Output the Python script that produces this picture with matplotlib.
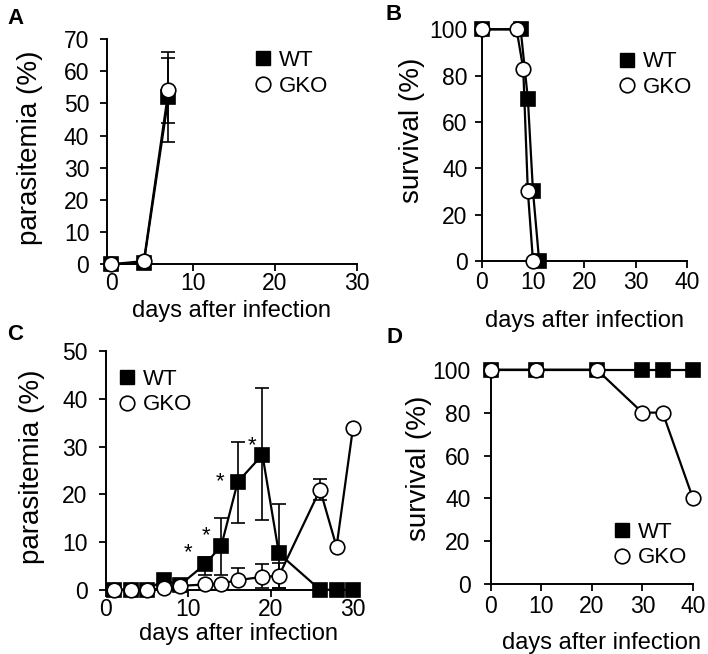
import matplotlib
matplotlib.use('Agg')
import matplotlib.pyplot as plt
from matplotlib.lines import Line2D
import numpy as np

plt.rcParams['font.family'] = ['Liberation Sans', 'DejaVu Sans']

# ---------------- data ----------------
# Panel A : parasitemia (%)
a_days = [0, 4, 7]
a_wt = [0, 0.5, 52]
a_wt_err = [0, 0, 14]
a_gko = [0, 1, 54]
a_gko_err = [0, 0, 10]

# Panel B : survival (%)
b_wt_days = [0, 7.6, 9, 10, 11.2]
b_wt = [100, 100, 70, 30, 0]
b_gko_days = [0, 6.8, 8.1, 9, 10]
b_gko = [100, 100, 83, 30, 0]

# Panel C : parasitemia (%)
c_days = [1, 3, 5, 7, 9, 12, 14, 16, 19, 21, 26, 28, 30]
c_wt = [0, 0, 0, 2, 1, 5.3, 9.2, 22.6, 28.3, 7.6, 0, 0, 0]
c_wt_err_lo = [0, 0, 0, 0, 0, 2.3, 6.2, 8.6, 13.7, 7.2, 0, 0, 0]
c_wt_err_hi = [0, 0, 0, 0, 0, 1.5, 5.8, 8.4, 14.0, 10.3, 0, 0, 0]
c_gko = [0, 0, 0, 0.3, 0.8, 1.1, 1.3, 2.0, 2.7, 2.9, 21, 9, 34]
c_gko_err_lo = [0, 0, 0, 0, 0, 0, 0, 0, 2.4, 2.5, 2.2, 0, 0]
c_gko_err_hi = [0, 0, 0, 0, 0, 0, 0, 2.5, 2.6, 2.6, 2.3, 0, 0]
c_star_days = [10, 12.2, 13.8, 17.7]
c_star_vals = [9.2, 12.9, 24.1, 31.7]

# Panel D : survival (%)
d_days = [0, 9, 21, 30, 34, 40]
d_wt = [100, 100, 100, 100, 100, 100]
d_gko = [100, 100, 100, 80, 80, 40]

series_labels = ['WT', 'GKO']
xlabel = 'days after infection'

# ---------------- style ----------------
TICK_FS = 16.5
XLABEL_FS = 17
YLABEL_FS = 20
LEG_FS = 16
MS = 10.5
LW = 1.6

fig = plt.figure(figsize=(7.08, 6.54), dpi=100)

axA = fig.add_axes([0.1511, 0.5959, 0.3531, 0.3445])
axB = fig.add_axes([0.6802, 0.6009, 0.2905, 0.3543])
axC = fig.add_axes([0.1497, 0.0983, 0.3489, 0.3645])
axD = fig.add_axes([0.6931, 0.1066, 0.2857, 0.3281])


def style(ax, xlim, ylim, xticks, yticks, ypad, xpad):
    ax.set_xlim(*xlim)
    ax.set_ylim(*ylim)
    ax.set_xticks(xticks)
    ax.set_yticks(yticks)
    for s in ['top', 'right']:
        ax.spines[s].set_visible(False)
    for s in ['left', 'bottom']:
        ax.spines[s].set_linewidth(1.4)
    ax.tick_params(axis='both', direction='out', length=5, width=1.3,
                   labelsize=TICK_FS)
    ax.tick_params(axis='y', pad=ypad)
    ax.tick_params(axis='x', pad=xpad)


def wt_style():
    return dict(color='black', marker='s', markersize=MS, markerfacecolor='black',
                markeredgecolor='black', markeredgewidth=1.2, linewidth=LW,
                clip_on=False, zorder=3)


def gko_style():
    return dict(color='black', marker='o', markersize=MS, markerfacecolor='white',
                markeredgecolor='black', markeredgewidth=1.2, linewidth=LW,
                clip_on=False, zorder=4)


def errbars(ax, x, y, lo, hi, z):
    x = np.asarray(x, float)
    y = np.asarray(y, float)
    lo = np.asarray(lo, float)
    hi = np.asarray(hi, float)
    m = (lo > 0) | (hi > 0)
    if m.any():
        ax.errorbar(x[m], y[m], yerr=[lo[m], hi[m]], fmt='none', ecolor='black',
                    elinewidth=1.2, capsize=4.7, capthick=1.2, clip_on=False,
                    zorder=z)


def legend(ax, anchor):
    h_wt = Line2D([], [], linestyle='none', marker='s', markersize=MS - 0.5,
                  markerfacecolor='black', markeredgecolor='black')
    h_gko = Line2D([], [], linestyle='none', marker='o', markersize=MS,
                   markerfacecolor='white', markeredgecolor='black',
                   markeredgewidth=1.2)
    ax.legend([h_wt, h_gko], series_labels, loc='upper left',
              bbox_to_anchor=anchor, bbox_transform=fig.transFigure,
              frameon=False, fontsize=LEG_FS, handlelength=0.8,
              handletextpad=0.3, labelspacing=0.2, borderpad=0,
              borderaxespad=0)


# ---------------- Panel A ----------------
errbars(axA, a_days, a_wt, a_wt_err, a_wt_err, 2)
errbars(axA, a_days, a_gko, a_gko_err, a_gko_err, 2)
axA.plot(a_days, a_wt, **wt_style())
axA.plot(a_days, a_gko, **gko_style())
style(axA, (-0.5, 30), (0, 70), [0, 10, 20, 30], range(0, 71, 10), 7.7, 0.5)
axA.set_ylabel('parasitemia (%)', fontsize=YLABEL_FS, va='center', ha='center')
axA.yaxis.set_label_coords(-0.308, 0.518)
axA.set_xlabel(xlabel, fontsize=XLABEL_FS, va='baseline', ha='center')
axA.xaxis.set_label_coords(0.5, -0.235)
legend(axA, (0.359, 0.9234))

# ---------------- Panel B ----------------
axB.plot(b_wt_days, b_wt, **wt_style())
axB.plot(b_gko_days, b_gko, **gko_style())
style(axB, (0, 40), (0, 100), [0, 10, 20, 30, 40], range(0, 101, 20), 5, 2)
axB.set_ylabel('survival (%)', fontsize=YLABEL_FS, va='center', ha='center')
axB.yaxis.set_label_coords(-0.34, 0.562)
axB.set_xlabel(xlabel, fontsize=XLABEL_FS, va='baseline', ha='center')
axB.xaxis.set_label_coords(0.5, -0.285)
legend(axB, (0.8733, 0.9214))

# ---------------- Panel C ----------------
errbars(axC, c_days, c_wt, c_wt_err_lo, c_wt_err_hi, 2)
axC.plot(c_days, c_wt, **wt_style())
errbars(axC, c_days, c_gko, c_gko_err_lo, c_gko_err_hi, 3.5)
axC.plot(c_days, c_gko, **gko_style())
for xd, yv in zip(c_star_days, c_star_vals):
    axC.annotate('*', (xd, yv), xytext=(0, -9), textcoords='offset points',
                 ha='center', va='baseline', fontsize=16)
style(axC, (0, 30), (0, 50), [0, 10, 20, 30], range(0, 51, 10), 8.4, 1)
axC.set_ylabel('parasitemia (%)', fontsize=YLABEL_FS, va='center', ha='center')
axC.yaxis.set_label_coords(-0.298, 0.515)
axC.set_xlabel(xlabel, fontsize=XLABEL_FS, va='baseline', ha='center')
axC.xaxis.set_label_coords(0.538, -0.212)
legend(axC, (0.1675, 0.4358))

# ---------------- Panel D ----------------
axD.plot(d_days, d_wt, **wt_style())
axD.plot(d_days, d_gko, **gko_style())
style(axD, (0, 40), (0, 100), [0, 10, 20, 30, 40], range(0, 101, 20), 9.5, 2.7)
axD.set_ylabel('survival (%)', fontsize=YLABEL_FS, va='center', ha='center')
axD.yaxis.set_label_coords(-0.354, 0.539)
axD.set_xlabel(xlabel, fontsize=XLABEL_FS, va='baseline', ha='center')
axD.xaxis.set_label_coords(0.548, -0.300)
legend(axD, (0.8663, 0.2018))

# ---------------- panel letters ----------------
for letter, (px, py) in zip(['A', 'B', 'C', 'D'],
                            [(15, 18), (394, 14.5), (15, 334), (394, 337.5)]):
    fig.text(px / 708, 1 - py / 654, letter, fontsize=16, fontweight='bold',
             ha='center', va='center')

fig.savefig('out.png', dpi=100)
